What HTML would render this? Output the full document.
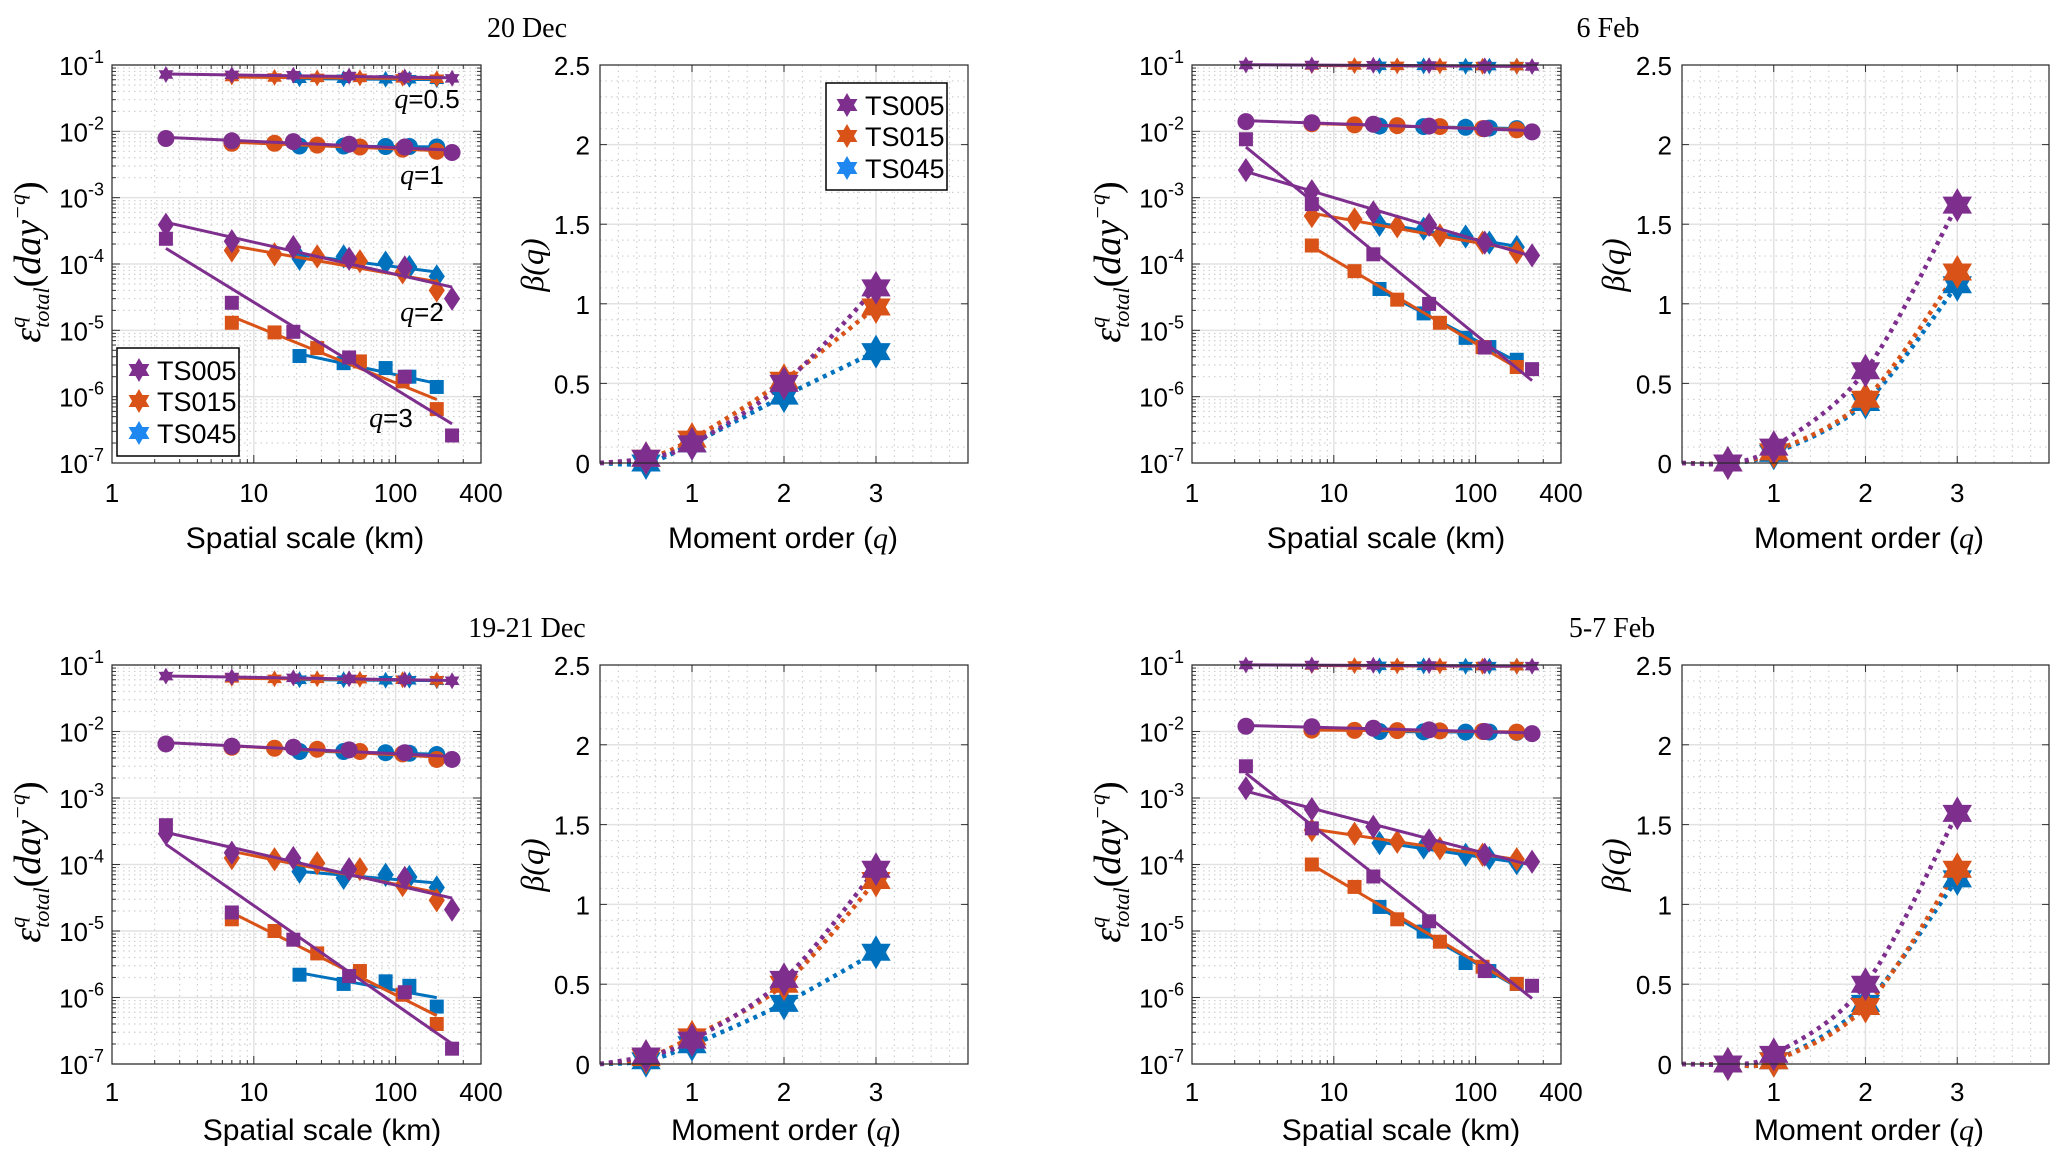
<!DOCTYPE html>
<html><head><meta charset="utf-8">
<style>
html,body{margin:0;padding:0;background:#fff;}
svg{display:block;}
text{font-family:"Liberation Sans",sans-serif;fill:#000;}
.serif{font-family:"Liberation Serif",serif;}
</style></head>
<body>
<svg id="fig" width="2067" height="1162" viewBox="0 0 2067 1162" xmlns="http://www.w3.org/2000/svg"></svg>
<script>
// ---------- DATA ----------
const seriesNames = ["TS045","TS015","TS005"];
const seriesColors = ["#0072BD","#D95319","#7E2F8E"];
const qOrders = [0.5,1,2,3];
const xTS005 = [2.4,7,19,47,116,250];
const xTS015 = [7,14,28,56,112,195];
const xTS045 = [21,43,85,125,195];

// Panel A: 20 Dec
const a_q05 = {TS005:[0.072,0.071,0.070,0.068,0.066,0.063], TS015:[0.066,0.065,0.064,0.064,0.063,0.062], TS045:[0.062,0.062,0.061,0.061,0.060]};
const a_q1  = {TS005:[0.0078,0.0072,0.0070,0.0064,0.0058,0.0048], TS015:[0.0066,0.0066,0.0062,0.0058,0.0054,0.0050], TS045:[0.0060,0.0060,0.0059,0.0059,0.0058]};
const a_q2  = {TS005:[3.9e-4,2.2e-4,1.8e-4,1.2e-4,8.9e-5,3.0e-5], TS015:[1.6e-4,1.4e-4,1.3e-4,1.1e-4,7.5e-5,4.0e-5], TS045:[1.2e-4,1.3e-4,1.05e-4,9e-5,6.5e-5]};
const a_q3  = {TS005:[2.4e-4,2.6e-5,9.5e-6,3.9e-6,2.0e-6,2.6e-7], TS015:[1.3e-5,9.3e-6,5.4e-6,3.4e-6,1.7e-6,6.5e-7], TS045:[4.1e-6,3.2e-6,2.7e-6,2.0e-6,1.4e-6]};
// Panel C: 6 Feb
const c_q05 = {TS005:[0.100,0.100,0.099,0.098,0.097,0.095], TS015:[0.098,0.098,0.097,0.097,0.096,0.096], TS045:[0.097,0.097,0.096,0.096,0.096]};
const c_q1  = {TS005:[0.014,0.0135,0.0128,0.0120,0.0110,0.0098], TS015:[0.013,0.0125,0.0122,0.0118,0.0110,0.0105], TS045:[0.012,0.0118,0.0115,0.0112,0.011]};
const c_q2  = {TS005:[2.6e-3,1.25e-3,6e-4,3.9e-4,2.1e-4,1.35e-4], TS015:[5.3e-4,4.7e-4,3.7e-4,2.7e-4,2.1e-4,1.5e-4], TS045:[3.9e-4,3.4e-4,2.6e-4,2.1e-4,1.8e-4]};
const c_q3  = {TS005:[7.6e-3,8e-4,1.4e-4,2.5e-5,5.5e-6,2.6e-6], TS015:[1.9e-4,7.8e-5,2.9e-5,1.3e-5,5.6e-6,2.8e-6], TS045:[4.2e-5,1.8e-5,7.7e-6,5.6e-6,3.6e-6]};
// Panel E: 19-21 Dec
const e_q05 = {TS005:[0.068,0.066,0.064,0.062,0.060,0.058], TS015:[0.063,0.062,0.062,0.061,0.060,0.059], TS045:[0.060,0.060,0.059,0.059,0.058]};
const e_q1  = {TS005:[0.0065,0.0060,0.0058,0.0053,0.0048,0.0038], TS015:[0.0058,0.0056,0.0054,0.0050,0.0046,0.0038], TS045:[0.0050,0.0050,0.0048,0.0047,0.0045]};
const e_q2  = {TS005:[2.9e-4,1.5e-4,1.25e-4,8.5e-5,6.3e-5,2.1e-5], TS015:[1.25e-4,1.2e-4,1.05e-4,8.5e-5,4.9e-5,2.9e-5], TS045:[7.8e-5,6.3e-5,7e-5,6.5e-5,4.5e-5]};
const e_q3  = {TS005:[3.9e-4,1.9e-5,7.4e-6,2.1e-6,1.2e-6,1.7e-7], TS015:[1.5e-5,1.0e-5,4.6e-6,2.5e-6,1.1e-6,4e-7], TS045:[2.2e-6,1.6e-6,1.75e-6,1.5e-6,7.3e-7]};
// Panel G: 5-7 Feb
const g_q05 = {TS005:[0.100,0.100,0.099,0.098,0.097,0.096], TS015:[0.098,0.098,0.097,0.097,0.096,0.096], TS045:[0.097,0.097,0.096,0.096,0.096]};
const g_q1  = {TS005:[0.012,0.0118,0.0112,0.0106,0.0100,0.0093], TS015:[0.0105,0.0104,0.0103,0.0102,0.0100,0.0098], TS045:[0.0100,0.0099,0.0098,0.0098,0.0097]};
const g_q2  = {TS005:[1.4e-3,6.8e-4,3.7e-4,2.3e-4,1.4e-4,1.1e-4], TS015:[3.3e-4,2.9e-4,2.2e-4,1.75e-4,1.4e-4,1.2e-4], TS045:[2.1e-4,1.8e-4,1.4e-4,1.25e-4,1.05e-4]};
const g_q3  = {TS005:[3e-3,3.5e-4,6.6e-5,1.4e-5,2.5e-6,1.5e-6], TS015:[1e-4,4.6e-5,1.5e-5,6.9e-6,2.9e-6,1.6e-6], TS045:[2.3e-5,9.8e-6,3.3e-6,2.5e-6,1.6e-6]};

// Beta(q) values, order q = 0.5,1,2,3
const b_dec20 = {TS005:[0.03,0.12,0.50,1.10], TS015:[0.03,0.15,0.52,0.98], TS045:[0.00,0.12,0.42,0.70]};
const b_feb6  = {TS005:[0.00,0.10,0.58,1.62], TS015:[0.00,0.07,0.40,1.20], TS045:[0.00,0.06,0.38,1.12]};
const b_dec1921 = {TS005:[0.05,0.15,0.53,1.22], TS015:[0.04,0.17,0.50,1.15], TS045:[0.02,0.12,0.38,0.70]};
const b_feb57 = {TS005:[0.00,0.06,0.50,1.57], TS015:[0.00,0.02,0.36,1.22], TS045:[0.00,0.02,0.38,1.16]};

const logXTicks = [1,10,100,400];
const logYTicks = [-1,-2,-3,-4,-5,-6,-7];
const betaYTicks = ["0","0.5","1","1.5","2","2.5"];
const betaXTicks = ["1","2","3"];

// ---------- DRAWING ----------
const NS="http://www.w3.org/2000/svg";
const svg=document.getElementById('fig');
function el(tag,attrs,parent){const e=document.createElementNS(NS,tag);for(const k in attrs)e.setAttribute(k,attrs[k]);(parent||svg).appendChild(e);return e;}
const xOf = {TS005:xTS005,TS015:xTS015,TS045:xTS045};
const colorOf = {TS045:"#0072BD",TS015:"#D95319",TS005:"#7E2F8E"};
const legendColor = {TS005:"#7E2F8E",TS015:"#D95319",TS045:"#1E88F0"};

function hexPath(cx,cy,r){
  let p="";
  for(let t=0;t<2;t++){
    const pts=[];
    for(let i=0;i<3;i++){const a=(t?Math.PI/2:-Math.PI/2)+i*2*Math.PI/3;pts.push((cx+r*Math.cos(a)).toFixed(1)+","+(cy+r*Math.sin(a)).toFixed(1));}
    p+="M"+pts.join("L")+"Z";
  }
  return p;
}
function marker(g,type,cx,cy,color,sz){
  let m;
  if(type==="hex"){m=el('path',{d:hexPath(cx,cy,sz),fill:color},g);}
  else if(type==="circle"){m=el('circle',{cx:cx,cy:cy,r:sz,fill:color},g);}
  else if(type==="diamond"){m=el('path',{d:`M${cx},${cy-sz*1.35}L${cx+sz*0.9},${cy}L${cx},${cy+sz*1.35}L${cx-sz*0.9},${cy}Z`,fill:color},g);}
  else {m=el('rect',{x:cx-sz,y:cy-sz,width:2*sz,height:2*sz,fill:color},g);}
  return m;
}

function drawLogPanel(P,sets,annot){
  const L=P.l,R=P.r,T=P.t,B=P.b;
  const X=v=>L+Math.log10(v)/Math.log10(400)*(R-L);
  const Y=v=>T+(-1-Math.log10(v))/6*(B-T);
  const g=el('g',{});  
  const mg=el('g',{stroke:"#d0d0d0","stroke-width":1.2,"stroke-dasharray":"1.5,4"},g);
  for(let d=0;d<3;d++)for(let k=2;k<=9;k++){const v=k*Math.pow(10,d);if(v<=400){el('line',{x1:X(v),y1:T,x2:X(v),y2:B},mg);}}
  for(let e=-7;e<-1;e++)for(let k=2;k<=9;k++){const v=k*Math.pow(10,e);el('line',{x1:L,y1:Y(v),x2:R,y2:Y(v)},mg);}
  const Mg=el('g',{stroke:"#e2e2e2","stroke-width":1.5},g);
  [10,100].forEach(v=>el('line',{x1:X(v),y1:T,x2:X(v),y2:B},Mg));
  logYTicks.forEach(e=>el('line',{x1:L,y1:Y(Math.pow(10,e)),x2:R,y2:Y(Math.pow(10,e))},Mg));
  const tk=el('g',{stroke:"#333","stroke-width":1},g);
  for(let e=-7;e<-1;e++)for(let k=1;k<=9;k++){const v=k*Math.pow(10,e);const len=k===1?8:4;el('line',{x1:L,y1:Y(v),x2:L+len,y2:Y(v)},tk);el('line',{x1:R,y1:Y(v),x2:R-len,y2:Y(v)},tk);}
  for(let d=0;d<3;d++)for(let k=1;k<=9;k++){const v=k*Math.pow(10,d);if(v<=400){const len=k===1?8:4;el('line',{x1:X(v),y1:B,x2:X(v),y2:B-len},tk);el('line',{x1:X(v),y1:T,x2:X(v),y2:T+len},tk);}}
  const types=["hex","circle","diamond","square"], sizes=[8.5,8.5,9,7];
  sets.forEach((set,qi)=>{
    seriesNames.forEach(s=>{
      const xs=xOf[s], ys=set[s];
      const lx=xs.map(Math.log10), ly=ys.map(Math.log10), n=lx.length;
      const mx=lx.reduce((a,b)=>a+b)/n, my=ly.reduce((a,b)=>a+b)/n;
      let sxy=0,sxx=0;for(let i=0;i<n;i++){sxy+=(lx[i]-mx)*(ly[i]-my);sxx+=(lx[i]-mx)*(lx[i]-mx);}
      const slope=sxy/sxx, ic=my-slope*mx;
      const x0=xs[0],x1=xs[n-1];
      const ln=el('line',{x1:X(x0),y1:Y(Math.pow(10,ic+slope*Math.log10(x0))),x2:X(x1),y2:Y(Math.pow(10,ic+slope*Math.log10(x1))),stroke:colorOf[s],"stroke-width":3},g);
      
      
      xs.forEach((xv,i)=>{
        const m=marker(g,types[qi],X(xv),Y(ys[i]),colorOf[s],sizes[qi]);
        
        
      });
    });
  });
  el('rect',{x:L,y:T,width:R-L,height:B-T,fill:"none",stroke:"#262626","stroke-width":1.2},g);
  logYTicks.forEach(e=>{
    const t=el('text',{x:L-8,y:Y(Math.pow(10,e))+10,"text-anchor":"end","font-size":26},g);
    
    
    t.textContent="10";
    const sp=el('tspan',{dy:-12,"font-size":18},t); sp.textContent=String(e);
  });
  logXTicks.forEach(v=>{
    const t=el('text',{x:X(v),y:P.tickY,"text-anchor":"middle","font-size":26},g);
    
    
    t.textContent=String(v);
  });
  const xl=el('text',{x:P.xlX,y:P.xlY,"text-anchor":"middle","font-size":30},g);
  
  
  xl.textContent="Spatial scale (km)";
  const yl=el('text',{transform:`translate(${P.ylX},${P.ylY}) rotate(-90)`,"text-anchor":"middle","font-size":38,"font-style":"italic",class:"serif"},g);
  
  
  const t1=el('tspan',{},yl);t1.textContent="ε";
  const t2=el('tspan',{dy:-15,"font-size":22},yl);t2.textContent="q";
  const t3=el('tspan',{dy:24,dx:-11,"font-size":22},yl);t3.textContent="total";
  const t4=el('tspan',{dy:-9,"font-style":"normal"},yl);t4.textContent="(";
  const t5=el('tspan',{},yl);t5.textContent="day";
  const t6=el('tspan',{dy:-15,"font-size":22},yl);t6.textContent="−q";
  const t7=el('tspan',{dy:15,"font-style":"normal"},yl);t7.textContent=")";
  if(annot){
    const an=[["q=0.5",427,108],["q=1",422,184],["q=2",422,321],["q=3",391,427]];
    an.forEach(a=>{
      const t=el('text',{x:a[1],y:a[2],"text-anchor":"middle","font-size":26},g);
      
      
      const i1=el('tspan',{"font-style":"italic",class:"serif","font-size":28},t);i1.textContent="q";
      const i2=el('tspan',{},t);i2.textContent=a[0].slice(1);
    });
  }
  return {X,Y};
}

function drawBetaPanel(P,bset){
  const L=P.l,R=P.r,T=P.t,B=P.b;
  const X=v=>L+v/4*(R-L), Y=v=>B-v/2.5*(B-T);
  const g=el('g',{});  
  const mg=el('g',{stroke:"#d0d0d0","stroke-width":1.2,"stroke-dasharray":"1.5,4"},g);
  for(let i=1;i<25;i++){if(i%5)el('line',{x1:L,y1:Y(i*0.1),x2:R,y2:Y(i*0.1)},mg);}
  for(let i=1;i<20;i++){if(i%5)el('line',{x1:X(i*0.2),y1:T,x2:X(i*0.2),y2:B},mg);}
  const Mg=el('g',{stroke:"#e2e2e2","stroke-width":1.5},g);
  [0.5,1,1.5,2].forEach(v=>el('line',{x1:L,y1:Y(v),x2:R,y2:Y(v)},Mg));
  [1,2,3].forEach(v=>el('line',{x1:X(v),y1:T,x2:X(v),y2:B},Mg));
  const tk=el('g',{stroke:"#333","stroke-width":1},g);
  [0,0.5,1,1.5,2,2.5].forEach(v=>{el('line',{x1:L,y1:Y(v),x2:L+7,y2:Y(v)},tk);el('line',{x1:R,y1:Y(v),x2:R-7,y2:Y(v)},tk);});
  [1,2,3].forEach(v=>{el('line',{x1:X(v),y1:B,x2:X(v),y2:B-7},tk);el('line',{x1:X(v),y1:T,x2:X(v),y2:T+7},tk);});
  seriesNames.forEach(s=>{
    const vals=bset[s];
    const pts=[[0,0]].concat(qOrders.map((q,i)=>[q,vals[i]])).map(p=>[X(p[0]),Y(p[1])]);
    let d=`M${pts[0][0]},${pts[0][1]}`;
    for(let i=0;i<pts.length-1;i++){
      const p0=pts[Math.max(0,i-1)],p1=pts[i],p2=pts[i+1],p3=pts[Math.min(pts.length-1,i+2)];
      const c1=[p1[0]+(p2[0]-p0[0])/6,p1[1]+(p2[1]-p0[1])/6],c2=[p2[0]-(p3[0]-p1[0])/6,p2[1]-(p3[1]-p1[1])/6];
      d+=`C${c1[0].toFixed(1)},${c1[1].toFixed(1)} ${c2[0].toFixed(1)},${c2[1].toFixed(1)} ${p2[0].toFixed(1)},${p2[1].toFixed(1)}`;
    }
    const c=el('path',{d:d,fill:"none",stroke:colorOf[s],"stroke-width":4.5,"stroke-dasharray":"4,5"},g);
    
    
  });
  seriesNames.forEach(s=>{
    bset[s].forEach((v,i)=>{
      const m=marker(g,"hex",X(qOrders[i]),Y(v),colorOf[s],17);
      
      
    });
  });
  el('rect',{x:L,y:T,width:R-L,height:B-T,fill:"none",stroke:"#262626","stroke-width":1.2},g);
  betaYTicks.forEach(v=>{
    const t=el('text',{x:L-10,y:Y(+v)+10,"text-anchor":"end","font-size":26},g);
    
    
    t.textContent=v;
  });
  betaXTicks.forEach(v=>{
    const t=el('text',{x:X(+v),y:P.tickY,"text-anchor":"middle","font-size":26},g);
    
    
    t.textContent=v;
  });
  const xl=el('text',{x:P.xlX,y:P.xlY,"text-anchor":"middle","font-size":30},g);
  
  
  xl.textContent="Moment order (";
  const qi=el('tspan',{"font-style":"italic",class:"serif"},xl);qi.textContent="q";
  const qe=el('tspan',{},xl);qe.textContent=")";
  const yl=el('text',{transform:`translate(${P.ylX},${P.ylY}) rotate(-90)`,"text-anchor":"middle","font-size":32,"font-style":"italic",class:"serif"},g);
  
  
  yl.textContent="β(q)";
}

function drawLegend(x,y,w,h,starX,textX,rows){
  const g=el('g',{});  
  el('rect',{x:x,y:y,width:w,height:h,fill:"#fff",stroke:"#000","stroke-width":1.5},g);
  ["TS005","TS015","TS045"].forEach((s,i)=>{
    const m=marker(g,"hex",starX,rows[i],legendColor[s],12);
    
    
    const t=el('text',{x:textX,y:rows[i]+10,"font-size":27},g);
    
    
    t.textContent=s;
  });
}
function drawTitle(x,y,txt){
  const t=el('text',{x:x,y:y,"text-anchor":"middle","font-size":28,class:"serif"});
  
  
  t.textContent=txt;
}

const rowTop={t:65,b:463,tickY:502,xlY:548};
const rowBot={t:665,b:1064,tickY:1101,xlY:1140};

drawTitle(527,37,"20 Dec");
drawLogPanel({name:"dec20",l:112,r:481,t:rowTop.t,b:rowTop.b,tickY:rowTop.tickY,xlX:305,xlY:rowTop.xlY,ylX:40,ylY:262},[a_q05,a_q1,a_q2,a_q3],true);
drawBetaPanel({name:"dec20",l:600,r:968,t:rowTop.t,b:rowTop.b,tickY:rowTop.tickY,xlX:783,xlY:rowTop.xlY,ylX:543,ylY:265},b_dec20);
drawLegend(117,348,122,108,139,157,[370,401,433]);
drawLegend(826,83,121,107,847,865,[105,136,168]);

drawTitle(1608,37,"6 Feb");
drawLogPanel({name:"feb6",l:1192,r:1561,t:rowTop.t,b:rowTop.b,tickY:rowTop.tickY,xlX:1386,xlY:rowTop.xlY,ylX:1120,ylY:262},[c_q05,c_q1,c_q2,c_q3],false);
drawBetaPanel({name:"feb6",l:1682,r:2049,t:rowTop.t,b:rowTop.b,tickY:rowTop.tickY,xlX:1869,xlY:rowTop.xlY,ylX:1624,ylY:265},b_feb6);

drawTitle(527,637,"19-21 Dec");
drawLogPanel({name:"dec19-21",l:112,r:481,t:rowBot.t,b:rowBot.b,tickY:rowBot.tickY,xlX:322,xlY:rowBot.xlY,ylX:40,ylY:862},[e_q05,e_q1,e_q2,e_q3],false);
drawBetaPanel({name:"dec19-21",l:600,r:968,t:rowBot.t,b:rowBot.b,tickY:rowBot.tickY,xlX:786,xlY:rowBot.xlY,ylX:543,ylY:865},b_dec1921);

drawTitle(1612,637,"5-7 Feb");
drawLogPanel({name:"feb5-7",l:1192,r:1561,t:rowBot.t,b:rowBot.b,tickY:rowBot.tickY,xlX:1401,xlY:rowBot.xlY,ylX:1120,ylY:862},[g_q05,g_q1,g_q2,g_q3],false);
drawBetaPanel({name:"feb5-7",l:1682,r:2049,t:rowBot.t,b:rowBot.b,tickY:rowBot.tickY,xlX:1869,xlY:rowBot.xlY,ylX:1624,ylY:865},b_feb57);
</script>
</body></html>
